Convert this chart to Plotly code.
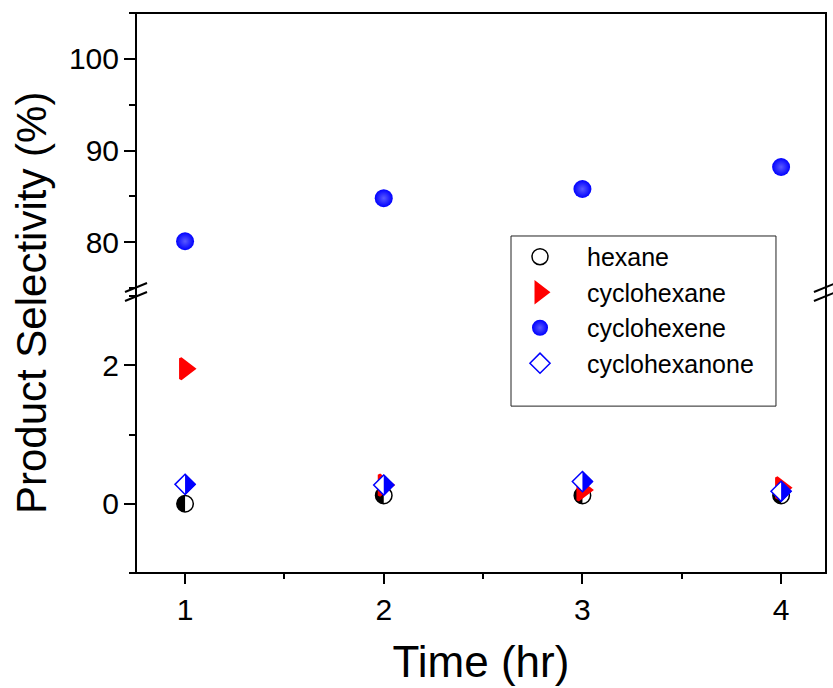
import plotly.graph_objects as go

# ---------------- data ----------------
time_hr = [1, 2, 3, 4]
hexane = [0.0, 0.12, 0.12, 0.12]
cyclohexane = [1.95, 0.27, 0.20, 0.23]
cyclohexene = [80.1, 84.8, 85.8, 88.2]
cyclohexanone = [0.28, 0.27, 0.32, 0.18]

series_names = ["hexane", "cyclohexane", "cyclohexene", "cyclohexanone"]
x_title = "Time (hr)"
y_title = "Product Selectivity (%)"

FONT = "Arial, Liberation Sans, sans-serif"
BLUE = "#0000ff"
RED = "#ff0000"

fig = go.Figure()

# hexane: outline only (half fill drawn as pixel shapes underneath)
fig.add_trace(go.Scatter(
    x=time_hr, y=hexane, mode="markers", name=series_names[0],
    marker=dict(symbol="circle", size=16.5, color="rgba(0,0,0,0)",
                line=dict(color="black", width=1.5)),
    xaxis="x", yaxis="y"))

fig.add_trace(go.Scatter(
    x=time_hr, y=cyclohexane, mode="markers", name=series_names[1],
    marker=dict(symbol="triangle-right", size=18, color=RED,
                line=dict(color=RED, width=3)),
    xaxis="x", yaxis="y"))

fig.add_trace(go.Scatter(
    x=time_hr, y=cyclohexene, mode="markers", name=series_names[2],
    marker=dict(symbol="circle", size=18, color=BLUE, line=dict(width=0),
                gradient=dict(type="radial", color="#5a5aff")),
    xaxis="x", yaxis="y2"))

fig.add_trace(go.Scatter(
    x=time_hr, y=cyclohexanone, mode="markers", name=series_names[3],
    marker=dict(symbol="diamond", size=15.5, color="white",
                line=dict(color=BLUE, width=1.5)),
    xaxis="x", yaxis="y"))

shapes = []
# half-filled marker details, anchored at the data points (pixel-sized)
r = 8.25
k = 0.5523 * r
for xv, yv in zip(time_hr, hexane):
    shapes.append(dict(type="circle", xref="x", yref="y", xsizemode="pixel", ysizemode="pixel",
                       xanchor=xv, yanchor=yv, x0=-r, x1=r, y0=-r, y1=r,
                       fillcolor="white", line=dict(width=0), layer="below"))
    shapes.append(dict(type="path", xref="x", yref="y", xsizemode="pixel", ysizemode="pixel",
                       xanchor=xv, yanchor=yv,
                       path=f"M0,{-r} C{-k},{-r} {-r},{-k} {-r},0 C{-r},{k} {-k},{r} 0,{r} Z",
                       fillcolor="black", line=dict(width=0), layer="below"))
rd = 10.8
for xv, yv in zip(time_hr, cyclohexanone):
    shapes.append(dict(type="path", xref="x", yref="y", xsizemode="pixel", ysizemode="pixel",
                       xanchor=xv, yanchor=yv,
                       path=f"M0,{rd} L{rd},0 L0,{-rd} Z",
                       fillcolor=BLUE, line=dict(width=0), layer="above"))

# plot frame
shapes.append(dict(type="rect", xref="paper", yref="paper", x0=0, x1=1, y0=0, y1=1,
                   line=dict(color="black", width=2), layer="above"))
# legend box
shapes.append(dict(type="rect", xref="paper", yref="paper", x0=0.5435, x1=0.9275, y0=0.298, y1=0.6018,
                   line=dict(color="#222222", width=1), layer="above"))
# axis break marks
for xa in (0, 0.9985):
    for ya in (0.4937, 0.5098):
        shapes.append(dict(type="line", xref="paper", yref="paper", xsizemode="pixel", ysizemode="pixel",
                           xanchor=xa, yanchor=ya, x0=-11, x1=11, y0=-4.5, y1=4.5,
                           line=dict(color="black", width=2)))

tick_common = dict(ticks="outside", tickwidth=2, tickcolor="black", showline=False,
                   showgrid=False, zeroline=False,
                   tickfont=dict(family=FONT, size=30, color="black"))

fig.update_layout(
    width=833, height=688,
    margin=dict(l=136, r=7, t=13, b=115, autoexpand=False),
    paper_bgcolor="white", plot_bgcolor="white",
    font=dict(family=FONT, color="black"),
    shapes=shapes,
    xaxis=dict(domain=[0, 1], range=[0.753, 4.226], anchor="y",
               tickmode="linear", tick0=1, dtick=1, ticklen=10,
               minor=dict(dtick=0.5, tick0=0.5, ticklen=5, tickwidth=2, tickcolor="black", ticks="outside"),
               title=dict(text=x_title, font=dict(family=FONT, size=44, color="black"), standoff=21),
               **tick_common),
    yaxis=dict(domain=[0, 0.4946], range=[-1, 3], anchor="x",
               tickmode="linear", tick0=0, dtick=2, ticklen=11, ticklabelstandoff=-1,
               minor=dict(dtick=1, tick0=-1, ticklen=6, tickwidth=2, tickcolor="black", ticks="outside"),
               **tick_common),
    yaxis2=dict(domain=[0.5089, 1], range=[75, 105], anchor="x",
                tickmode="linear", tick0=0, dtick=10, ticklen=11, ticklabelstandoff=-1,
                minor=dict(dtick=5, tick0=75, ticklen=6, tickwidth=2, tickcolor="black", ticks="outside"),
                **tick_common),
    legend=dict(x=0.5174, y=0.6054, xanchor="left", yanchor="top",
                bgcolor="rgba(0,0,0,0)", borderwidth=0, itemwidth=84,
                font=dict(family=FONT, size=25, color="black")),
    annotations=[dict(text=y_title, xref="paper", yref="paper", x=-0.1522, y=0.482,
                      xanchor="center", yanchor="middle", textangle=-90, showarrow=False,
                      font=dict(family=FONT, size=42, color="black"))],
)

fig.write_html("out.html")
